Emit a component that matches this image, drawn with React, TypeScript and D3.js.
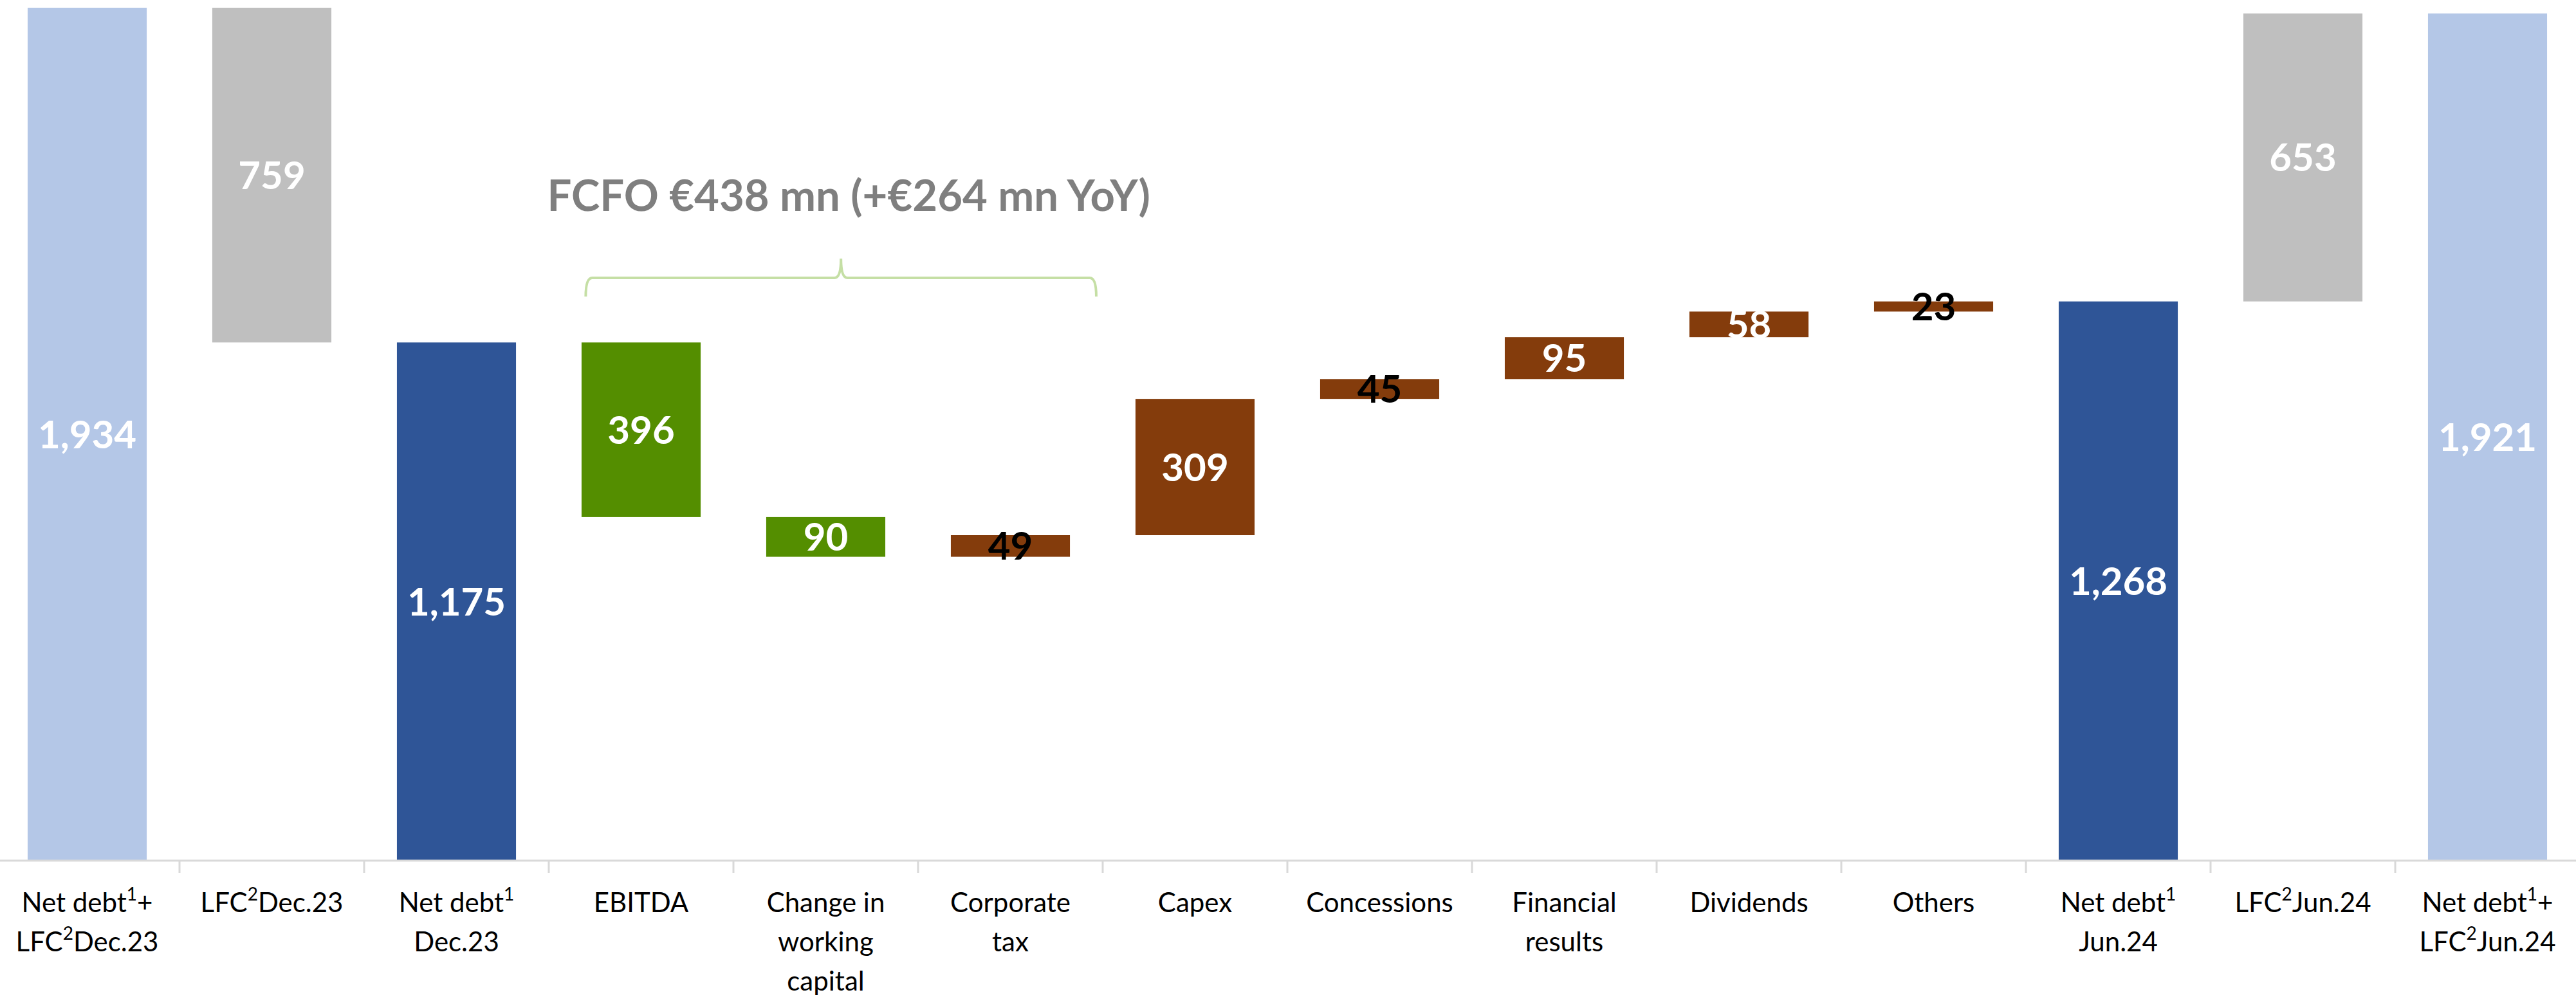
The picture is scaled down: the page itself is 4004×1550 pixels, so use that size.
import React, { useEffect } from "react";
import { scaleBand, scaleLinear, format, path } from "d3";

// categories: "|" breaks a line, "^n" marks a superscript footnote
const categories = [
  "Net debt^1+|LFC^2Dec.23",
  "LFC^2Dec.23",
  "Net debt^1|Dec.23",
  "EBITDA",
  "Change in|working|capital",
  "Corporate|tax",
  "Capex",
  "Concessions",
  "Financial|results",
  "Dividends",
  "Others",
  "Net debt^1|Jun.24",
  "LFC^2Jun.24",
  "Net debt^1+|LFC^2Jun.24",
];
const values = [1934, 759, 1175, 396, 90, 49, 309, 45, 95, 58, 23, 1268, 653, 1921];
// grand = net debt + LFC, total = net debt, down = debt reduction, up = debt increase
const kinds = ["grand", "lfcOut", "total", "down", "down", "up", "up", "up", "up", "up", "up", "total", "lfcIn", "grand"];
const darkLabels = ["Corporate|tax", "Concessions", "Others"];
const title = "FCFO €438 mn (+€264 mn YoY)";

const colors = {
  grand: "#B4C7E7",
  lfcOut: "#BFBFBF",
  lfcIn: "#BFBFBF",
  total: "#2F5597",
  down: "#548E00",
  up: "#843C0C",
};

const W = 4004;
const H = 1550;
const axisY = 1338;
const font = "Lato, 'Open Sans', sans-serif";

function buildSteps() {
  let run = 0;
  let prevTop = 0;
  return values.map((v, i) => {
    const k = kinds[i];
    let lo, hi;
    if (k === "grand" || k === "total") {
      lo = 0;
      hi = v;
      run = v;
    } else if (k === "lfcOut") {
      hi = prevTop;
      lo = prevTop - v;
      run = lo;
    } else if (k === "lfcIn") {
      lo = run;
      hi = run + v;
      run = hi;
    } else if (k === "down") {
      hi = run;
      lo = run - v;
      run = lo;
    } else {
      lo = run;
      hi = run + v;
      run = hi;
    }
    prevTop = hi;
    return { cat: categories[i], value: v, kind: k, lo, hi };
  });
}

function Label({ text, x, y, size, supSize }) {
  const parts = text.split(/\^(\d)/);
  const out = [];
  let shift = 0;
  parts.forEach((p, i) => {
    if (!p.length) return;
    if (i % 2 === 1) {
      out.push(
        <tspan key={i} fontSize={supSize} dy={-18}>
          {p}
        </tspan>
      );
      shift = 18;
    } else {
      out.push(
        <tspan key={i} dy={shift}>
          {p}
        </tspan>
      );
      shift = 0;
    }
  });
  return (
    <text x={x} y={y} textAnchor="middle" fontSize={size} fontFamily={font} fill="#000">
      {out}
    </text>
  );
}

export default function App() {
  useEffect(() => {
    document.body.style.margin = "0";
  }, []);

  const steps = buildSteps();

  const xScale = scaleBand().domain(categories).range([-8, 4010]).padding(0);
  const bw = xScale.bandwidth();
  const barW = bw * 0.645;
  const yScale = scaleLinear().domain([0, 1934]).range([axisY, 12]);
  const fmt = format(",");

  // bracket over the FCFO items
  const bx0 = xScale(categories[3]) + bw * 0.2;
  const bx1 = xScale(categories[5]) + bw * 0.965;
  const bMid = (bx0 + bx1) / 2;
  const bBot = 461;
  const bLine = 432;
  const bTip = 402;
  const br = path();
  br.moveTo(bx0, bBot);
  br.quadraticCurveTo(bx0, bLine, bx0 + 10, bLine);
  br.lineTo(bMid - 10, bLine);
  br.quadraticCurveTo(bMid, bLine, bMid, bTip);
  br.quadraticCurveTo(bMid, bLine, bMid + 10, bLine);
  br.lineTo(bx1 - 10, bLine);
  br.quadraticCurveTo(bx1, bLine, bx1, bBot);

  return (
    <svg width={W} height={H} style={{ display: "block" }} xmlns="http://www.w3.org/2000/svg">
      <rect width={W} height={H} fill="#fff" />
      {steps.map((s) => {
        const x = xScale(s.cat) + (bw - barW) / 2;
        const yTop = yScale(s.hi);
        const yBot = yScale(s.lo);
        return (
          <g key={s.cat}>
            <rect x={x} y={yTop} width={barW} height={yBot - yTop} fill={colors[s.kind]} />
            <text
              x={x + barW / 2}
              y={(yTop + yBot) / 2}
              dy="0.36em"
              textAnchor="middle"
              fontFamily={font}
              fontWeight={700}
              fontSize={60}
              fill={darkLabels.includes(s.cat) ? "#000" : "#fff"}
            >
              {fmt(s.value)}
            </text>
          </g>
        );
      })}

      {/* category axis */}
      <line x1={0} x2={W} y1={axisY} y2={axisY} stroke="#D9D9D9" strokeWidth={3} />
      {categories.slice(1).map((c) => (
        <line
          key={c}
          x1={xScale(c)}
          x2={xScale(c)}
          y1={axisY}
          y2={axisY + 19}
          stroke="#D9D9D9"
          strokeWidth={3}
        />
      ))}
      {categories.map((c) =>
        c.split("|").map((line, j) => (
          <Label
            key={c + j}
            text={line}
            x={xScale(c) + bw / 2}
            y={1418 + j * 61}
            size={42}
            supSize={28}
          />
        ))
      )}

      {/* FCFO annotation */}
      <path d={br.toString()} fill="none" stroke="#C5DFA5" strokeWidth={4} />
      <text
        x={bMid + 12}
        y={328}
        textAnchor="middle"
        fontFamily={font}
        fontWeight={700}
        fontSize={67}
        fill="#7F7F7F"
      >
        {title}
      </text>
    </svg>
  );
}
